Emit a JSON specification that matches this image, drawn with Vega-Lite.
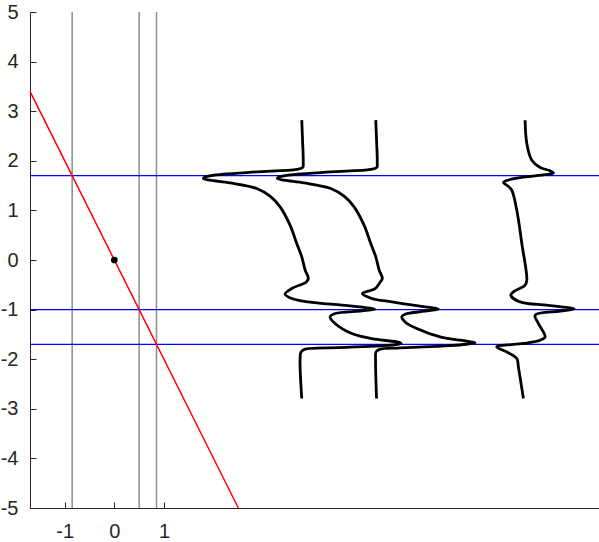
{
  "$schema": "https://vega.github.io/schema/vega-lite/v6.json",
  "width": 569,
  "height": 496,
  "autosize": "none",
  "padding": {"left": 30, "top": 12, "right": 0, "bottom": 34},
  "background": "white",
  "datasets": {
    "vlines": [{"x": -0.85}, {"x": 0.5}, {"x": 0.85}],
    "hlines": [{"y": 1.7}, {"y": -1.0}, {"y": -1.7}],
    "redline": [{"x": -1.7, "y": 3.4}, {"x": 2.5, "y": -5}],
    "dot": [{"x": 0, "y": 0}],
    "curves": [
      {"c": "a", "i": 1, "x": 3.778, "y": 2.819},
      {"c": "a", "i": 2, "x": 3.794, "y": 2.415},
      {"c": "a", "i": 3, "x": 3.808, "y": 1.972},
      {"c": "a", "i": 4, "x": 3.798, "y": 1.865},
      {"c": "a", "i": 5, "x": 3.677, "y": 1.825},
      {"c": "a", "i": 6, "x": 2.871, "y": 1.776},
      {"c": "a", "i": 7, "x": 2.198, "y": 1.73},
      {"c": "a", "i": 8, "x": 1.829, "y": 1.675},
      {"c": "a", "i": 9, "x": 1.794, "y": 1.643},
      {"c": "a", "i": 10, "x": 1.929, "y": 1.609},
      {"c": "a", "i": 11, "x": 2.333, "y": 1.554},
      {"c": "a", "i": 12, "x": 2.871, "y": 1.442},
      {"c": "a", "i": 13, "x": 3.139, "y": 1.286},
      {"c": "a", "i": 14, "x": 3.341, "y": 1.071},
      {"c": "a", "i": 15, "x": 3.542, "y": 0.702},
      {"c": "a", "i": 16, "x": 3.677, "y": 0.333},
      {"c": "a", "i": 17, "x": 3.778, "y": 0.063},
      {"c": "a", "i": 18, "x": 3.845, "y": -0.198},
      {"c": "a", "i": 19, "x": 3.911, "y": -0.373},
      {"c": "a", "i": 20, "x": 3.865, "y": -0.448},
      {"c": "a", "i": 21, "x": 3.577, "y": -0.575},
      {"c": "a", "i": 22, "x": 3.442, "y": -0.69},
      {"c": "a", "i": 23, "x": 3.577, "y": -0.776},
      {"c": "a", "i": 24, "x": 3.911, "y": -0.845},
      {"c": "a", "i": 25, "x": 4.585, "y": -0.911},
      {"c": "a", "i": 26, "x": 5.054, "y": -0.958},
      {"c": "a", "i": 27, "x": 5.256, "y": -0.992},
      {"c": "a", "i": 28, "x": 4.988, "y": -1.026},
      {"c": "a", "i": 29, "x": 4.45, "y": -1.079},
      {"c": "a", "i": 30, "x": 4.349, "y": -1.147},
      {"c": "a", "i": 31, "x": 4.45, "y": -1.28},
      {"c": "a", "i": 32, "x": 4.786, "y": -1.482},
      {"c": "a", "i": 33, "x": 5.256, "y": -1.597},
      {"c": "a", "i": 34, "x": 5.726, "y": -1.657},
      {"c": "a", "i": 35, "x": 5.78, "y": -1.683},
      {"c": "a", "i": 36, "x": 5.256, "y": -1.738},
      {"c": "a", "i": 37, "x": 4.248, "y": -1.772},
      {"c": "a", "i": 38, "x": 3.845, "y": -1.798},
      {"c": "a", "i": 39, "x": 3.764, "y": -1.853},
      {"c": "a", "i": 40, "x": 3.744, "y": -2.02},
      {"c": "a", "i": 41, "x": 3.778, "y": -2.792},

      {"c": "b", "i": 1, "x": 5.27, "y": 2.819},
      {"c": "b", "i": 2, "x": 5.286, "y": 2.415},
      {"c": "b", "i": 3, "x": 5.3, "y": 1.972},
      {"c": "b", "i": 4, "x": 5.29, "y": 1.865},
      {"c": "b", "i": 5, "x": 5.169, "y": 1.825},
      {"c": "b", "i": 6, "x": 4.363, "y": 1.776},
      {"c": "b", "i": 7, "x": 3.69, "y": 1.73},
      {"c": "b", "i": 8, "x": 3.321, "y": 1.675},
      {"c": "b", "i": 9, "x": 3.286, "y": 1.643},
      {"c": "b", "i": 10, "x": 3.421, "y": 1.609},
      {"c": "b", "i": 11, "x": 3.825, "y": 1.554},
      {"c": "b", "i": 12, "x": 4.363, "y": 1.442},
      {"c": "b", "i": 13, "x": 4.631, "y": 1.286},
      {"c": "b", "i": 14, "x": 4.833, "y": 1.071},
      {"c": "b", "i": 15, "x": 5.034, "y": 0.702},
      {"c": "b", "i": 16, "x": 5.169, "y": 0.333},
      {"c": "b", "i": 17, "x": 5.27, "y": 0.063},
      {"c": "b", "i": 18, "x": 5.337, "y": -0.198},
      {"c": "b", "i": 19, "x": 5.403, "y": -0.373},
      {"c": "b", "i": 20, "x": 5.357, "y": -0.448},
      {"c": "b", "i": 21, "x": 5.256, "y": -0.575},
      {"c": "b", "i": 22, "x": 5.0, "y": -0.675},
      {"c": "b", "i": 23, "x": 5.19, "y": -0.776},
      {"c": "b", "i": 24, "x": 5.593, "y": -0.845},
      {"c": "b", "i": 25, "x": 6.129, "y": -0.925},
      {"c": "b", "i": 26, "x": 6.466, "y": -0.972},
      {"c": "b", "i": 27, "x": 6.532, "y": -0.992},
      {"c": "b", "i": 28, "x": 6.264, "y": -1.032},
      {"c": "b", "i": 29, "x": 5.861, "y": -1.093},
      {"c": "b", "i": 30, "x": 5.794, "y": -1.143},
      {"c": "b", "i": 31, "x": 5.861, "y": -1.248},
      {"c": "b", "i": 32, "x": 6.097, "y": -1.381},
      {"c": "b", "i": 33, "x": 6.567, "y": -1.55},
      {"c": "b", "i": 34, "x": 7.071, "y": -1.631},
      {"c": "b", "i": 35, "x": 7.272, "y": -1.667},
      {"c": "b", "i": 36, "x": 6.768, "y": -1.728},
      {"c": "b", "i": 37, "x": 5.762, "y": -1.772},
      {"c": "b", "i": 38, "x": 5.359, "y": -1.798},
      {"c": "b", "i": 39, "x": 5.276, "y": -1.853},
      {"c": "b", "i": 40, "x": 5.266, "y": -2.02},
      {"c": "b", "i": 41, "x": 5.286, "y": -2.792},

      {"c": "c", "i": 1, "x": 8.28, "y": 2.819},
      {"c": "c", "i": 2, "x": 8.315, "y": 2.349},
      {"c": "c", "i": 3, "x": 8.415, "y": 2.012},
      {"c": "c", "i": 4, "x": 8.583, "y": 1.865},
      {"c": "c", "i": 5, "x": 8.784, "y": 1.8},
      {"c": "c", "i": 6, "x": 8.851, "y": 1.756},
      {"c": "c", "i": 7, "x": 8.683, "y": 1.72},
      {"c": "c", "i": 8, "x": 8.246, "y": 1.669},
      {"c": "c", "i": 9, "x": 7.897, "y": 1.599},
      {"c": "c", "i": 10, "x": 7.843, "y": 1.563},
      {"c": "c", "i": 11, "x": 7.938, "y": 1.488},
      {"c": "c", "i": 12, "x": 8.012, "y": 1.407},
      {"c": "c", "i": 13, "x": 8.113, "y": 1.004},
      {"c": "c", "i": 14, "x": 8.214, "y": 0.333},
      {"c": "c", "i": 15, "x": 8.315, "y": -0.407},
      {"c": "c", "i": 16, "x": 8.28, "y": -0.508},
      {"c": "c", "i": 17, "x": 8.044, "y": -0.643},
      {"c": "c", "i": 18, "x": 7.992, "y": -0.71},
      {"c": "c", "i": 19, "x": 8.179, "y": -0.845},
      {"c": "c", "i": 20, "x": 8.718, "y": -0.911},
      {"c": "c", "i": 21, "x": 9.147, "y": -0.962},
      {"c": "c", "i": 22, "x": 9.268, "y": -0.986},
      {"c": "c", "i": 23, "x": 8.986, "y": -1.032},
      {"c": "c", "i": 24, "x": 8.482, "y": -1.113},
      {"c": "c", "i": 25, "x": 8.548, "y": -1.28},
      {"c": "c", "i": 26, "x": 8.683, "y": -1.55},
      {"c": "c", "i": 27, "x": 8.583, "y": -1.617},
      {"c": "c", "i": 28, "x": 8.246, "y": -1.683},
      {"c": "c", "i": 29, "x": 7.708, "y": -1.752},
      {"c": "c", "i": 30, "x": 7.909, "y": -1.853},
      {"c": "c", "i": 31, "x": 8.113, "y": -1.986},
      {"c": "c", "i": 32, "x": 8.145, "y": -2.155},
      {"c": "c", "i": 33, "x": 8.246, "y": -2.792}
    ]
  },
  "layer": [
    {
      "data": {"name": "vlines"},
      "mark": {"type": "rule", "color": "#8c8c8c", "strokeWidth": 1.5},
      "encoding": {
        "x": {"field": "x", "type": "quantitative",
              "scale": {"domain": [-1.7, 9.77], "nice": false, "zero": false},
              "axis": {"values": [-1, 0, 1], "labelExpr": "'' + datum.value"}}
      }
    },
    {
      "data": {"name": "hlines"},
      "mark": {"type": "rule", "color": "#0000ff", "strokeWidth": 1.2},
      "encoding": {
        "y": {"field": "y", "type": "quantitative",
              "scale": {"domain": [-5, 5], "nice": false, "zero": false},
              "axis": {"values": [-5, -4, -3, -2, -1, 0, 1, 2, 3, 4, 5], "labelExpr": "'' + datum.value"}}
      }
    },
    {
      "data": {"name": "redline"},
      "mark": {"type": "line", "color": "#ff0000", "strokeWidth": 1.5},
      "encoding": {
        "x": {"field": "x", "type": "quantitative"},
        "y": {"field": "y", "type": "quantitative"}
      }
    },
    {
      "data": {"name": "curves"},
      "mark": {"type": "line", "color": "#000000", "strokeWidth": 2.8, "interpolate": "catmull-rom"},
      "encoding": {
        "x": {"field": "x", "type": "quantitative"},
        "y": {"field": "y", "type": "quantitative"},
        "detail": {"field": "c", "type": "nominal"},
        "order": {"field": "i", "type": "quantitative"}
      }
    },
    {
      "data": {"name": "dot"},
      "mark": {"type": "point", "filled": true, "color": "#000000", "size": 45, "opacity": 1},
      "encoding": {
        "x": {"field": "x", "type": "quantitative"},
        "y": {"field": "y", "type": "quantitative"}
      }
    }
  ],
  "config": {
    "view": {"stroke": null},
    "axis": {
      "title": null,
      "grid": false,
      "domainColor": "#262626",
      "domainWidth": 1,
      "tickColor": "#262626",
      "tickWidth": 1,
      "tickSize": -6,
      "labelColor": "#262626",
      "labelFont": "Liberation Sans",
      "labelFontSize": 20
    },
    "axisX": {"labelPadding": 19},
    "axisY": {"labelPadding": 18},
    "axisBottom": {"labelFontSize": 20},
    "axisLeft": {"labelFontSize": 20}
  }
}
